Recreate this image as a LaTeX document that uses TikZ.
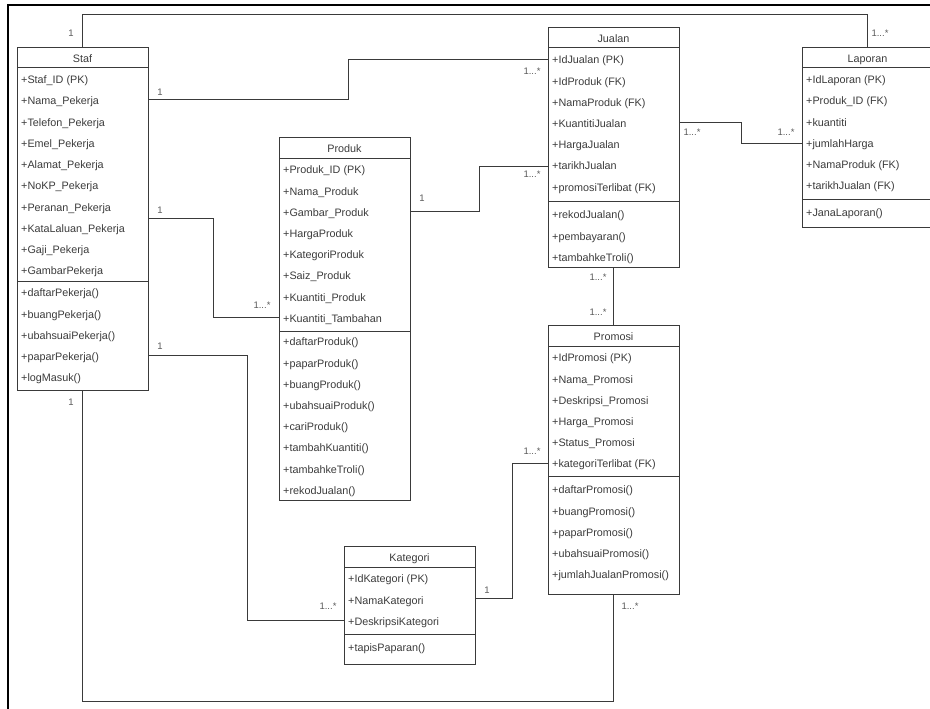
\documentclass[tikz,border=0pt]{standalone}
\usepackage{fontspec}
\setmainfont{Liberation Sans}
\definecolor{linec}{HTML}{3A3A3A}
\definecolor{textc}{HTML}{3C3C3C}
\definecolor{labc}{HTML}{5A5A5A}
\tikzset{
  classbox/.style={draw=linec, line width=1pt, fill=white, inner sep=0pt, outer sep=0pt, minimum width=131pt, anchor=north west},
  member/.style={anchor=base west, inner sep=0pt, text=textc, font=\fontsize{10.8}{12}\selectfont},
  ctitle/.style={anchor=base, inner sep=0pt, text=textc, font=\fontsize{10.8}{12}\selectfont},
  conn/.style={draw=linec, line width=1pt},
  mult/.style={inner sep=0pt, text=labc, font=\fontsize{9.5}{11}\selectfont},
  frameline/.style={draw=black, line width=2.2pt}
}
\def\moff{17.8}
\newcommand{\umlclass}[9]{%
  \pgfmathsetmacro\bh{#7-#4}%
  \node[classbox, minimum height=\bh pt] (#1) at (#3,#4) {};
  \node[ctitle] (#1-t) at ({#3+65.5},{(#4+#5)/2+4.5}) {#2};
  \draw[conn] (#3,#5) -- ++(131,0);
  \draw[conn] (#3,#6) -- ++(131,0);
  \foreach \mem [count=\i from 0] in {#8} {\node[member] (#1-a\i) at ({#3+4},{#5+15.8+21.2*\i}) {\mem};}
  \foreach \mem [count=\i from 0] in {#9} {\node[member] (#1-m\i) at ({#3+4},{#6+\moff+21.2*\i}) {\mem};}
}
\begin{document}
\begin{tikzpicture}[x=1pt, y=-1pt]
\useasboundingbox (0,0) rectangle (930,709);
\fill[white] (0,0) rectangle (930,709);
\draw[frameline] (8,709) -- (8,5) -- (930,5);

\def\moff{15.8}
\umlclass{staf}{Staf}{17}{48}{68}{281}{390}%
  {+Staf\_ID (PK),+Nama\_Pekerja,+Telefon\_Pekerja,+Emel\_Pekerja,+Alamat\_Pekerja,+NoKP\_Pekerja,+Peranan\_Pekerja,+KataLaluan\_Pekerja,+Gaji\_Pekerja,+GambarPekerja}%
  {+daftarPekerja(),+buangPekerja(),+ubahsuaiPekerja(),+paparPekerja(),+logMasuk()}

\def\moff{14.8}
\umlclass{produk}{Produk}{279}{137}{158}{331}{500}%
  {+Produk\_ID (PK),+Nama\_Produk,+Gambar\_Produk,+HargaProduk,+KategoriProduk,+Saiz\_Produk,+Kuantiti\_Produk,+Kuantiti\_Tambahan}%
  {+daftarProduk(),+paparProduk(),+buangProduk(),+ubahsuaiProduk(),+cariProduk(),+tambahKuantiti(),+tambahkeTroli(),+rekodJualan()}

\def\moff{17.8}
\umlclass{jualan}{Jualan}{548}{28}{48}{201}{267}%
  {+IdJualan (PK),+IdProduk (FK),+NamaProduk (FK),+KuantitiJualan,+HargaJualan,+tarikhJualan,+promosiTerlibat (FK)}%
  {+rekodJualan(),+pembayaran(),+tambahkeTroli()}

\umlclass{laporan}{Laporan}{802}{48}{68}{199}{227}%
  {+IdLaporan (PK),+Produk\_ID (FK),+kuantiti,+jumlahHarga,+NamaProduk (FK),+tarikhJualan (FK)}%
  {+JanaLaporan()}

\umlclass{promosi}{Promosi}{548}{325}{346}{476}{594}%
  {+IdPromosi (PK),+Nama\_Promosi,+Deskripsi\_Promosi,+Harga\_Promosi,+Status\_Promosi,+kategoriTerlibat (FK)}%
  {+daftarPromosi(),+buangPromosi(),+paparPromosi(),+ubahsuaiPromosi(),+jumlahJualanPromosi()}

\umlclass{kategori}{Kategori}{344}{546}{567}{634}{664}%
  {+IdKategori (PK),+NamaKategori,+DeskripsiKategori}%
  {+tapisPaparan()}

% connectors
\draw[conn] (staf.north) -- (staf.north |- 0,15) -| (laporan.north);
\draw[conn] (staf.east |- 0,100) -| (348,60) -- (jualan.west |- 0,60);
\draw[conn] (staf.east |- 0,218) -| (213,317) -- (produk.west |- 0,317);
\draw[conn] (staf.east |- 0,355) -| (247,620) -- (kategori.west |- 0,620);
\draw[conn] (staf.south) |- (promosi.south |- 0,701) -- (promosi.south);
\draw[conn] (produk.east |- 0,211) -| (479,166) -- (jualan.west |- 0,166);
\draw[conn] (jualan.east |- 0,123) -| (741,143) -- (laporan.west |- 0,143);
\draw[conn] (jualan.south) -- (promosi.north);
\draw[conn] (kategori.east |- 0,598) -| (512,463) -- (promosi.west |- 0,463);

% multiplicities
\node[mult] (m1a) at (71,33) {1};
\node[mult] (m1b) at (880,33) {1...*};
\node[mult] (m2a) at (160,92) {1};
\node[mult] (m2b) at (532,71) {1...*};
\node[mult] (m3a) at (160,210) {1};
\node[mult] (m3b) at (262,305) {1...*};
\node[mult] (m4a) at (160,346) {1};
\node[mult] (m4b) at (328,606) {1...*};
\node[mult] (m5a) at (71,402) {1};
\node[mult] (m5b) at (630,606) {1...*};
\node[mult] (m6a) at (422,198) {1};
\node[mult] (m6b) at (532,174) {1...*};
\node[mult] (m7a) at (692,132) {1...*};
\node[mult] (m7b) at (786,132) {1...*};
\node[mult] (m8a) at (598,277) {1...*};
\node[mult] (m8b) at (598,312) {1...*};
\node[mult] (m9a) at (487,590) {1};
\node[mult] (m9b) at (532,451) {1...*};
\end{tikzpicture}
\end{document}
